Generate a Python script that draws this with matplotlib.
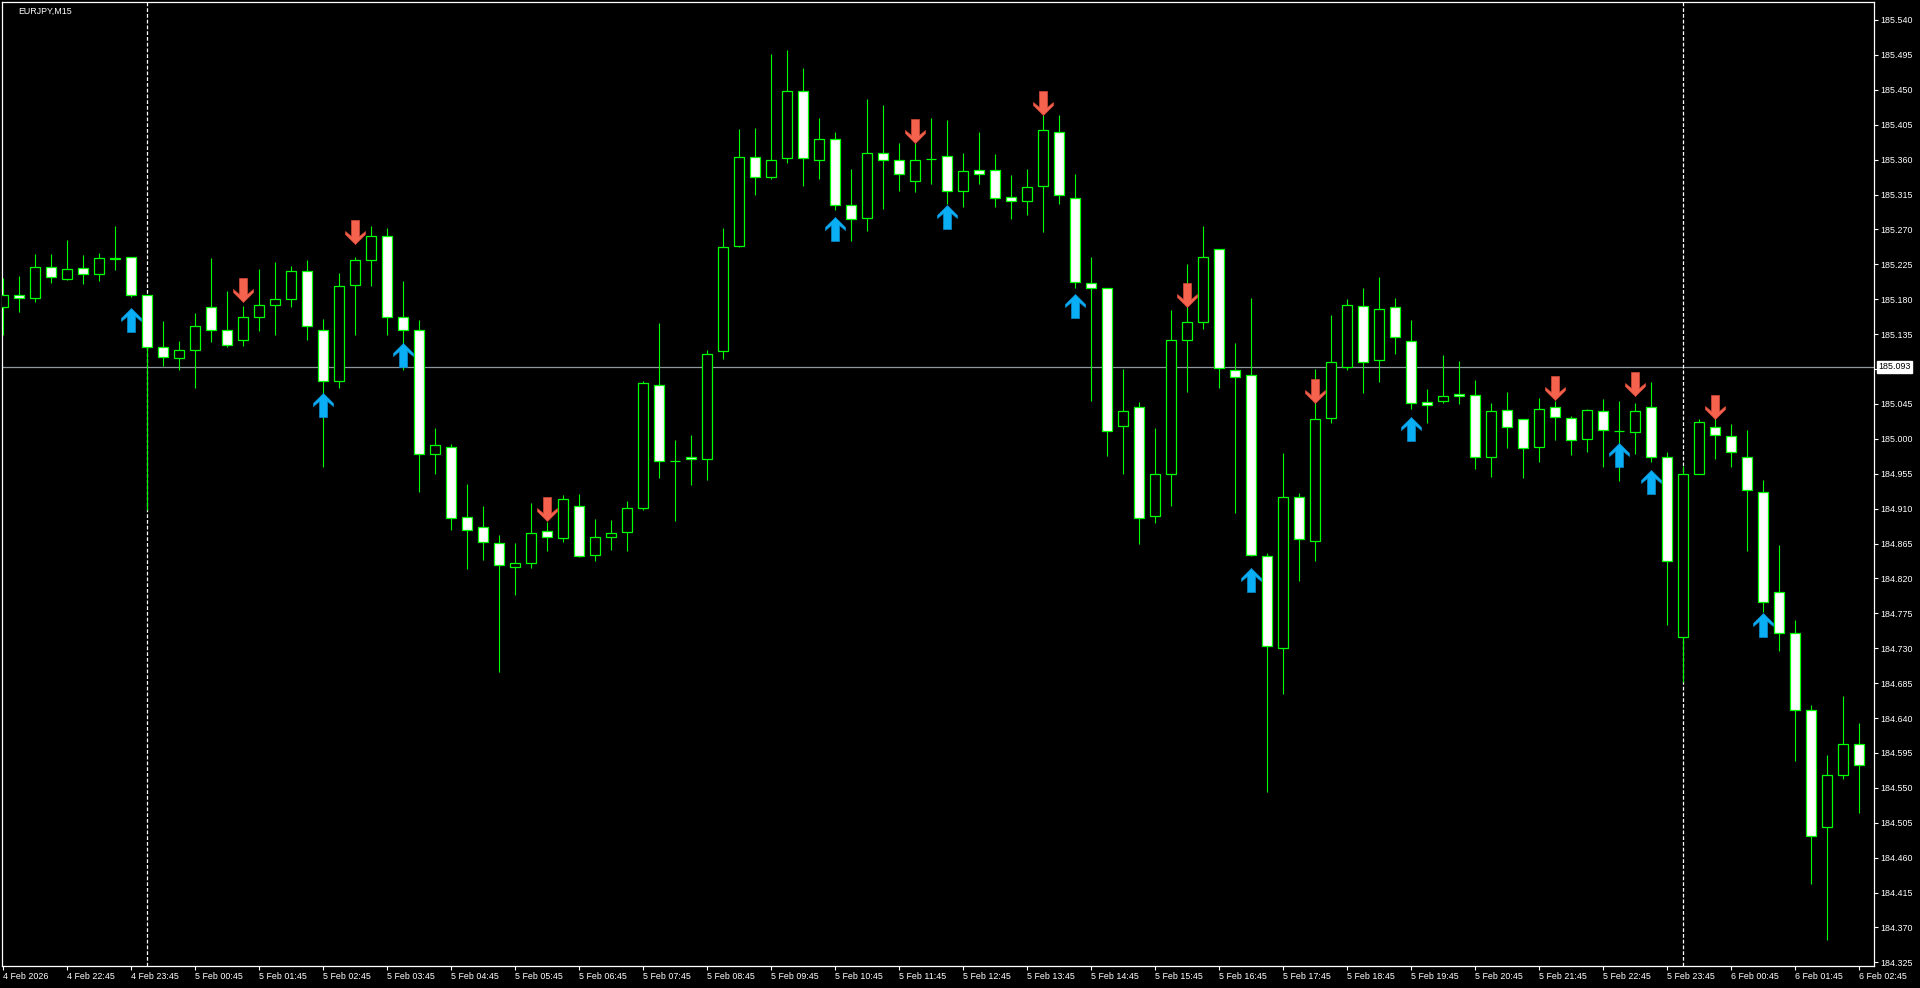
import matplotlib
matplotlib.use('Agg')
import matplotlib.pyplot as plt
import numpy as np
import pandas as pd
from matplotlib.path import Path
from matplotlib.markers import MarkerStyle
from matplotlib.ticker import FormatStrFormatter

plt.rcParams['font.family'] = ['Liberation Sans', 'DejaVu Sans']

# EURJPY M15 bars, 4 Feb 21:45 -> 6 Feb 02:45
opens = [185.170, 185.186, 185.181, 185.222, 185.206, 185.220, 185.212, 185.232, 185.234, 185.185,
         185.119, 185.104, 185.114, 185.170, 185.140, 185.127, 185.157, 185.173, 185.180, 185.216,
         185.140, 185.075, 185.198, 185.231, 185.261, 185.157, 185.140, 184.981, 184.990, 184.899,
         184.886, 184.866, 184.835, 184.840, 184.881, 184.872, 184.914, 184.850, 184.873, 184.880,
         184.911, 185.070, 184.971, 184.977, 184.974, 185.113, 185.249, 185.363, 185.337, 185.362,
         185.449, 185.359, 185.386, 185.301, 185.285, 185.368, 185.360, 185.332, 185.361, 185.365,
         185.319, 185.346, 185.346, 185.312, 185.306, 185.326, 185.395, 185.311, 185.201, 185.194,
         185.016, 185.041, 184.900, 184.955, 185.128, 185.150, 185.245, 185.089, 185.082, 184.849,
         184.730, 184.925, 184.868, 185.027, 185.092, 185.171, 185.102, 185.170, 185.126, 185.048,
         185.049, 185.058, 185.056, 184.976, 185.037, 185.025, 184.990, 185.041, 185.027, 185.000,
         185.036, 185.010, 185.009, 185.041, 184.977, 184.745, 184.955, 185.015, 185.004, 184.976,
         184.932, 184.803, 184.749, 184.650, 184.500, 184.567, 184.607]
highs = [185.207, 185.210, 185.238, 185.238, 185.256, 185.237, 185.240, 185.274, 185.235, 185.185,
         185.152, 185.126, 185.162, 185.233, 185.191, 185.171, 185.219, 185.228, 185.223, 185.231,
         185.155, 185.214, 185.234, 185.274, 185.272, 185.204, 185.153, 185.014, 184.993, 184.942,
         184.913, 184.876, 184.866, 184.917, 184.893, 184.928, 184.929, 184.897, 184.895, 184.920,
         185.075, 185.149, 184.998, 185.005, 185.115, 185.272, 185.399, 185.401, 185.496, 185.501,
         185.478, 185.414, 185.395, 185.348, 185.438, 185.430, 185.382, 185.381, 185.414, 185.411,
         185.369, 185.395, 185.367, 185.340, 185.348, 185.418, 185.417, 185.342, 185.235, 185.194,
         185.090, 185.047, 185.014, 185.166, 185.225, 185.274, 185.245, 185.123, 185.181, 184.853,
         184.982, 184.930, 185.090, 185.160, 185.180, 185.194, 185.208, 185.182, 185.153, 185.064,
         185.108, 185.100, 185.076, 185.046, 185.060, 185.026, 185.052, 185.049, 185.030, 185.038,
         185.051, 185.049, 185.046, 185.073, 184.983, 184.965, 185.025, 185.041, 185.019, 185.011,
         184.947, 184.863, 184.767, 184.657, 184.592, 184.669, 184.634]
lows = [185.134, 185.164, 185.177, 185.201, 185.205, 185.200, 185.204, 185.218, 185.183, 184.908,
        185.094, 185.089, 185.065, 185.125, 185.118, 185.120, 185.139, 185.134, 185.170, 185.128,
        184.964, 185.066, 185.134, 185.197, 185.134, 185.089, 184.931, 184.955, 184.882, 184.832,
        184.844, 184.699, 184.798, 184.834, 184.856, 184.867, 184.847, 184.843, 184.857, 184.856,
        184.908, 184.949, 184.894, 184.940, 184.947, 185.103, 185.247, 185.315, 185.335, 185.355,
        185.326, 185.335, 185.295, 185.255, 185.268, 185.296, 185.319, 185.318, 185.328, 185.303,
        185.299, 185.328, 185.299, 185.284, 185.288, 185.267, 185.303, 185.195, 185.049, 184.978,
        184.955, 184.865, 184.892, 184.914, 185.061, 185.142, 185.065, 184.905, 184.849, 184.544,
        184.671, 184.817, 184.843, 185.020, 185.089, 185.059, 185.073, 185.109, 185.038, 185.020,
        185.046, 185.045, 184.961, 184.951, 184.988, 184.950, 184.970, 184.998, 184.979, 184.983,
        184.964, 184.945, 184.981, 184.970, 184.760, 184.686, 184.954, 184.974, 184.964, 184.856,
        184.777, 184.726, 184.585, 184.426, 184.354, 184.562, 184.517]
closes = [185.185, 185.181, 185.222, 185.208, 185.219, 185.212, 185.233, 185.233, 185.185, 185.119,
          185.105, 185.114, 185.145, 185.140, 185.121, 185.157, 185.173, 185.180, 185.216, 185.146,
          185.075, 185.197, 185.230, 185.261, 185.157, 185.140, 184.981, 184.992, 184.898, 184.882,
          184.867, 184.837, 184.840, 184.879, 184.873, 184.922, 184.849, 184.874, 184.879, 184.911,
          185.072, 184.972, 184.971, 184.974, 185.109, 185.247, 185.363, 185.337, 185.360, 185.449,
          185.362, 185.386, 185.302, 185.283, 185.368, 185.360, 185.342, 185.360, 185.361, 185.319,
          185.345, 185.342, 185.311, 185.306, 185.325, 185.398, 185.314, 185.202, 185.194, 185.010,
          185.036, 184.898, 184.954, 185.127, 185.150, 185.234, 185.091, 185.080, 184.850, 184.733,
          184.925, 184.871, 185.026, 185.099, 185.172, 185.099, 185.168, 185.131, 185.046, 185.044,
          185.055, 185.055, 184.976, 185.036, 185.015, 184.988, 185.038, 185.028, 184.999, 185.037,
          185.011, 185.010, 185.036, 184.976, 184.843, 184.955, 185.022, 185.005, 184.983, 184.934,
          184.790, 184.749, 184.650, 184.488, 184.566, 184.607, 184.579]

# signal arrows (bar index, price of the arrow tip)
up_bars = [8, 20, 25, 52, 59, 67, 78, 88, 101, 103, 110]
up_tips = [185.169, 185.059, 185.124, 185.286, 185.301, 185.187, 184.834, 185.028, 184.994, 184.960, 184.775]
down_bars = [15, 22, 34, 57, 65, 74, 82, 97, 102, 107]
down_tips = [185.176, 185.251, 184.894, 185.382, 185.418, 185.170, 185.046, 185.050, 185.055, 185.026]

level_price = 185.093
separator_bars = [9, 105]   # 5 Feb 00:00 and 6 Feb 00:00
ytick_values = list(np.round(np.arange(185.540, 184.300, -0.045), 3))

times = pd.date_range('2026-02-04 21:45', periods=len(opens), freq='15min')
xtick_bars = list(range(0, len(opens), 4))
xtick_labels = ['4 Feb 2026'] + [f"{times[b].day} {times[b]:%b %H:%M}" for b in xtick_bars[1:]]

GREEN = '#00ff00'
FS = 6.4

fig = plt.figure(figsize=(19.2, 9.88), dpi=100, facecolor='black')
ax = fig.add_axes([2 / 1920, 22 / 988, 1872 / 1920, 964 / 988])
ax.set_facecolor('black')

x = np.arange(len(opens))
o = np.array(opens)
c = np.array(closes)
bull = c >= o

ax.vlines(x, lows, highs, color=GREEN, lw=0.8, zorder=3)
ax.bar(x, np.abs(c - o), bottom=np.minimum(o, c), width=0.6,
       color=np.where(bull, 'black', 'white'), edgecolor=GREEN, linewidth=0.9, zorder=4)

ax.axhline(level_price, color='#8e969e', lw=0.9, zorder=2)
for b in separator_bars:
    ax.axvline(b, color='white', lw=0.9, dashes=(3, 1.6), zorder=2)

# arrows drawn as markers, tip at the origin
up_path = Path([(0, 0), (10, -10), (10, -13), (4, -8), (4, -24), (-4, -24),
                (-4, -8), (-10, -13), (-10, -10), (0, 0)])
down_path = Path([(vx, -vy) for vx, vy in up_path.vertices])
ax.plot(up_bars, up_tips, ls='none', marker=MarkerStyle(up_path), markersize=34.5,
        color='#0aaef5', markeredgecolor='#0a8fd0', markeredgewidth=0.5, zorder=6)
ax.plot(down_bars, down_tips, ls='none', marker=MarkerStyle(down_path), markersize=34.5,
        color='#f5634e', markeredgecolor='#d84a38', markeredgewidth=0.5, zorder=6)

ax.set_xlim(-0.081, 116.92)
ax.set_ylim(184.3203, 185.5632)

for s in ax.spines.values():
    s.set_color('white')
    s.set_linewidth(0.9)

ax.yaxis.tick_right()
ax.set_yticks(ytick_values)
ax.yaxis.set_major_formatter(FormatStrFormatter('%.3f'))
ax.set_xticks(xtick_bars)
ax.set_xticklabels(xtick_labels, ha='left')
ax.tick_params(axis='both', colors='white', labelcolor='white', labelsize=FS,
               length=3, width=0.8, direction='out')
ax.tick_params(axis='y', pad=1.5)
ax.tick_params(axis='x', pad=1.5)

ax.annotate(f'{level_price:.3f}', xy=(1, level_price), xycoords=('axes fraction', 'data'),
            xytext=(3, 0), textcoords='offset points', ha='left', va='center',
            fontsize=FS, color='black', annotation_clip=False, zorder=10,
            bbox=dict(boxstyle='square,pad=0.15', facecolor='white', edgecolor='white'))

fig.text(18 / 1920, 1 - 11 / 988, 'EURJPY,M15', color='white', fontsize=FS,
         ha='left', va='center')

fig.savefig('out.png', dpi=100, facecolor='black')
